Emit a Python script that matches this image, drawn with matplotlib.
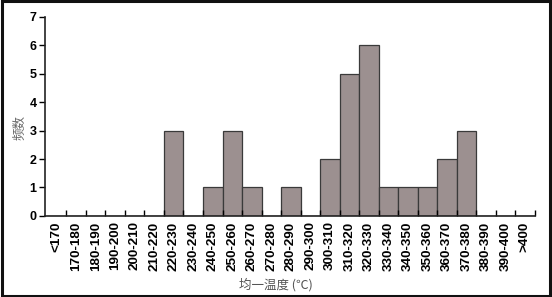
import matplotlib.pyplot as plt
from matplotlib.patches import Rectangle

categories = ['<170', '170-180', '180-190', '190-200', '200-210', '210-220',
              '220-230', '230-240', '240-250', '250-260', '260-270', '270-280',
              '280-290', '290-300', '300-310', '310-320', '320-330', '330-340',
              '340-350', '350-360', '360-370', '370-380', '380-390', '390-400', '>400']
counts = [0, 0, 0, 0, 0, 0, 3, 0, 1, 3, 1, 0, 1, 0, 2, 5, 6, 1, 1, 1, 2, 3, 0, 0, 0]
y_ticks = [0, 1, 2, 3, 4, 5, 6, 7]

fig = plt.figure(figsize=(5.52, 2.97), dpi=100)
ax = fig.add_axes([0.0815, 0.273, 0.887, 0.670])

x = list(range(len(categories)))
ax.bar(x, counts, width=1.0, color='#9c9090', edgecolor='#3a3a3a', linewidth=0.9)

ax.set_xlim(-0.6, len(categories) - 0.5)
ax.set_ylim(0, 7)

# boundary ticks pointing up, labels centred on bars
ax.set_xticks([i + 0.5 for i in x[:-1]] + [len(categories) - 0.5])
ax.set_xticklabels([])
ax.tick_params(axis='x', which='major', direction='in', length=4, width=1)
ax.set_xticks(x, minor=True)
ax.set_xticklabels(categories, minor=True, rotation=90, fontsize=9.7,
                   fontweight='bold', family='Liberation Sans')
ax.tick_params(axis='x', which='minor', length=0, pad=4)

ax.set_yticks(y_ticks)
ax.set_yticklabels([str(v) for v in y_ticks], fontsize=9, fontweight='bold',
                   family='Liberation Sans')
ax.tick_params(axis='y', direction='out', length=4, width=1, pad=2)

for side in ['top', 'right']:
    ax.spines[side].set_visible(False)
for side in ['left', 'bottom']:
    ax.spines[side].set_linewidth(1.2)
    ax.spines[side].set_color('#222222')

fig.text(0.036, 0.572, '频数', rotation=90, ha='center', va='center',
         fontsize=9, color='#666666', family=['Noto Sans CJK SC', 'DejaVu Sans'])
fig.text(0.50, 0.043, '均一温度 (℃)', ha='center', va='center',
         fontsize=9, color='#555555', family=['Noto Sans CJK SC', 'DejaVu Sans'])

# outer frame
fig.patches.append(Rectangle((0.003, 0.005), 0.994, 0.99, transform=fig.transFigure,
                             fill=False, edgecolor='#111111', linewidth=2.2))

fig.savefig('out.png', dpi=100)
